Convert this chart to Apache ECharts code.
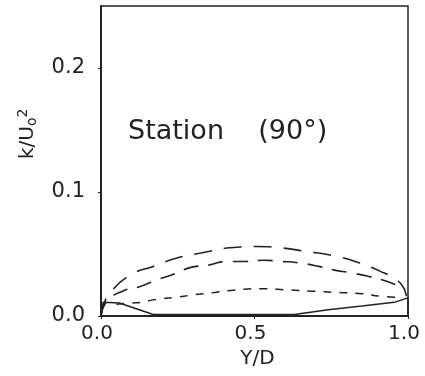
<!DOCTYPE html>
<html>
<head>
<meta charset="utf-8">
<script src="https://cdn.jsdelivr.net/npm/echarts@6/dist/echarts.min.js"></script>
<style>
    html, body { margin: 0; padding: 0; background: #fff; }
    #chart { width: 425px; height: 376px; }
</style>
</head>
<body>
<div id="chart"></div>
<script>
// axis ticks
var xTickValues = [0, 0.5, 1];
var xTickLabels = ['0.0', '0.5', '1.0'];
var yTickValues = [0, 0.1, 0.2];
var yTickLabels = ['0.0', '0.1', '0.2'];

// Y/D positions and k/Uo^2 values
var upperX = [0.0, 0.01, 0.03, 0.095, 0.17, 0.25, 0.33, 0.42, 0.50, 0.585, 0.67, 0.75, 0.84, 0.91, 0.95, 0.98, 0.995, 1.0];
var upperY = [0.0, 0.010, 0.019, 0.033, 0.040, 0.047, 0.051, 0.055, 0.056, 0.055, 0.052, 0.049, 0.043, 0.036, 0.031, 0.025, 0.016, 0.005];

var middleX = [0.0, 0.02, 0.07, 0.13, 0.18, 0.23, 0.29, 0.35, 0.41, 0.47, 0.53, 0.585, 0.64, 0.71, 0.76, 0.81, 0.87, 0.93, 0.99];
var middleY = [0.0, 0.012, 0.020, 0.024, 0.029, 0.033, 0.039, 0.041, 0.044, 0.044, 0.045, 0.044, 0.043, 0.040, 0.037, 0.035, 0.032, 0.028, 0.022];

var shortX = [0.05, 0.10, 0.13, 0.17, 0.20, 0.24, 0.30, 0.37, 0.44, 0.52, 0.61, 0.69, 0.77, 0.85, 0.91, 0.98];
var shortY = [0.0095, 0.0105, 0.011, 0.013, 0.014, 0.015, 0.017, 0.019, 0.021, 0.022, 0.021, 0.020, 0.019, 0.018, 0.016, 0.015];

var solidX = [0.0, 0.007, 0.06, 0.17, 0.40, 0.63, 0.74, 0.85, 0.955, 1.0, 1.0];
var solidY = [0.0, 0.011, 0.0105, 0.0012, 0.0012, 0.0012, 0.005, 0.008, 0.011, 0.0146, 0.0];

function pairs(xs, ys) {
    return xs.map(function(x, i) { return [x, ys[i]]; });
}

function lookup(values, labels, v) {
    for (var i = 0; i < values.length; i++) {
        if (Math.abs(values[i] - v) < 1e-9) return labels[i];
    }
    return '';
}

var chart = echarts.init(document.getElementById('chart'));
var font = 'DejaVu Sans';

var option = {
    backgroundColor: '#fff',
    animation: false,
    grid: {
        left: 101,
        right: 17,
        top: 6,
        bottom: 60,
        show: true,
        borderColor: '#222',
        borderWidth: 1.5
    },
    xAxis: {
        type: 'value',
        min: 0,
        max: 1,
        interval: 0.5,
        name: 'Y/D',
        nameLocation: 'middle',
        nameGap: 29,
        nameTextStyle: { fontFamily: font, fontSize: 20, color: '#222', padding: [0, 0, 0, 6] },
        axisLine: { show: true, lineStyle: { color: '#222', width: 2 } },
        axisTick: { show: true, inside: false, length: 3, customValues: xTickValues, lineStyle: { color: '#222' } },
        splitLine: { show: false },
        axisLabel: {
            fontFamily: font,
            fontSize: 20,
            color: '#222',
            margin: 8,
            padding: [0, 8, 0, 0],
            customValues: xTickValues,
            formatter: function(v) { return lookup(xTickValues, xTickLabels, v); }
        }
    },
    yAxis: {
        type: 'value',
        min: 0,
        max: 0.25,
        axisLine: { show: true, lineStyle: { color: '#222', width: 2 } },
        axisTick: { show: true, inside: false, length: 3, customValues: yTickValues, lineStyle: { color: '#222' } },
        splitLine: { show: false },
        axisLabel: {
            fontFamily: font,
            fontSize: 21,
            color: '#222',
            margin: 16,
            verticalAlign: 'middle',
            customValues: yTickValues,
            formatter: function(v) { return lookup(yTickValues, yTickLabels, v); }
        }
    },
    graphic: [
        {
            type: 'text',
            left: 128,
            top: 118,
            style: {
                text: 'Station    (90°)',
                font: '27px "DejaVu Sans"',
                fill: '#222'
            }
        },
        {
            type: 'text',
            x: 16,
            y: 159,
            rotation: Math.PI / 2,
            style: {
                text: 'k/U{sub|o}{sup|2}',
                font: '20px "DejaVu Sans"',
                fill: '#222',
                rich: {
                    sub: { fontSize: 14, fontFamily: font, padding: [8, 0, 0, 0], fill: '#222' },
                    sup: { fontSize: 14, fontFamily: font, padding: [0, 0, 10, 0], fill: '#222' }
                }
            }
        }
    ],
    series: [
        {
            type: 'line',
            name: 'upper',
            data: pairs(upperX, upperY),
            smooth: true,
            symbol: 'none',
            lineStyle: { color: '#222', width: 1.6, type: [18, 12] }
        },
        {
            type: 'line',
            name: 'middle',
            data: pairs(middleX, middleY),
            smooth: true,
            symbol: 'none',
            lineStyle: { color: '#222', width: 1.6, type: [15, 10] }
        },
        {
            type: 'line',
            name: 'short',
            data: pairs(shortX, shortY),
            smooth: true,
            symbol: 'none',
            lineStyle: { color: '#222', width: 1.5, type: [8, 8] }
        },
        {
            type: 'line',
            name: 'solid',
            data: pairs(solidX, solidY),
            smooth: false,
            symbol: 'none',
            lineStyle: { color: '#222', width: 1.5, type: 'solid' }
        }
    ]
};

chart.setOption(option);
</script>
</body>
</html>
